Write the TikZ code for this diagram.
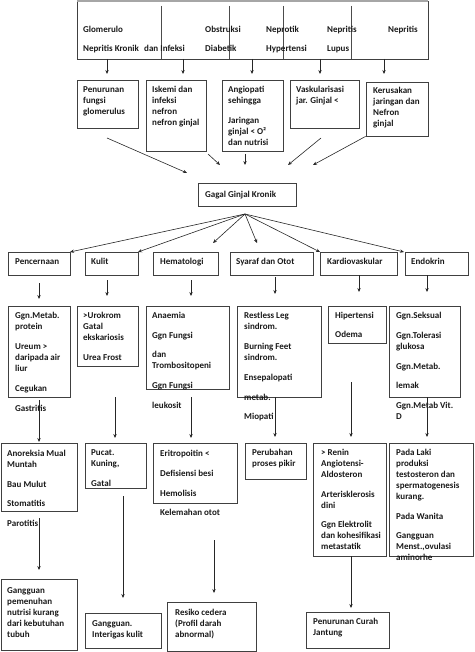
\documentclass[tikz,border=0pt]{standalone}
\usepackage{fontspec}
\setmainfont{Carlito}
\usetikzlibrary{arrows.meta,fit}
\tikzset{
 box/.style={draw=black!75, line width=0.8pt, inner sep=0pt},
 txt/.style={anchor=base west, inner sep=0pt, text=black!90, font=\fontsize{9}{11}\selectfont\bfseries},
 arr/.style={draw=black!85, line width=0.6pt, -{Stealth[length=4pt,width=3.4pt]}},
 divider/.style={draw=black!70, line width=0.7pt},
 topbar/.style={draw=black!35, line width=2.5pt},
}
\newcommand\tx[4]{\node[txt] (#1) at (#2,#3) {\begin{tabular}[t]{@{}l@{}}#4\end{tabular}};}
\begin{document}
\begin{tikzpicture}[x=1pt,y=-1pt]
\useasboundingbox (0,0) rectangle (474,652);

% ---------- top box ----------
\node[box, fit={(77,1)(428,59)}] (top) {};
\draw[topbar] (77,1) -- (428,1);
\foreach \x in {161,229,283,351} \draw[divider] (\x,6) -- (\x,59);
\tx{t1}{83}{33}{Glomerulo}
\tx{t2}{83}{52}{Nepritis Kronik}
\tx{t3}{144}{52}{dan Infeksi}
\tx{t4}{205}{33}{Obstruksi}
\tx{t5}{205}{52}{Diabetik}
\tx{t6}{266}{33}{Neprotik}
\tx{t7}{266}{52}{Hypertensi}
\tx{t8}{327}{33}{Nepritis}
\tx{t9}{327}{52}{Lupus}
\tx{t10}{388}{33}{Nepritis}

\foreach \x [count=\i] in {107,183,252,320,384} {
  \coordinate (ts\i) at (\x,59);
  \coordinate (te\i) at (\x,74);
  \draw[arr] (ts\i) -- (te\i);
}

% ---------- row 1 ----------
\node[box, fit={(77,80)(138,128)}] (r1a) {};
\node[box, fit={(146,80)(206,151)}] (r1b) {};
\node[box, fit={(222,80)(283,151)}] (r1c) {};
\node[box, fit={(290,80)(359,128)}] (r1d) {};
\node[box, fit={(366,82)(428,136)}] (r1e) {};
\tx{x1a}{83}{93}{Penurunan\\fungsi\\glomerulus}
\tx{x1b}{152}{93}{Iskemi dan\\infeksi\\nefron\\nefron ginjal}
\tx{x1c}{228}{93}{Angiopati\\sehingga\\[9pt]Jaringan\\ginjal < O²\\dan nutrisi}
\tx{x1d}{296}{93}{Vaskularisasi\\jar. Ginjal <}
\tx{x1e}{373}{94}{Kerusakan\\jaringan dan\\Nefron\\ginjal}

\coordinate (c1s) at (107,138); \coordinate (c1e) at (187,173);
\coordinate (c2s) at (208,154); \coordinate (c2e) at (220,165);
\coordinate (c3s) at (245,154); \coordinate (c3e) at (245,165);
\coordinate (c4s) at (321,138); \coordinate (c4e) at (288,165);
\coordinate (c5e) at (313,165);
\draw[arr] (c1s) -- (c1e);
\draw[arr] (c2s) -- (c2e);
\draw[arr] (c3s) -- (c3e);
\draw[arr] (c4s) -- (c4e);
\draw[arr] (r1e.south west) -- (c5e);

% ---------- center ----------
\node[box, fit={(198,183)(296,206)}] (ggk) {};
\tx{xggk}{205}{197}{Gagal Ginjal Kronik}

\coordinate (apex) at (245,214);
\coordinate (f1) at (70,252);
\coordinate (f2) at (138,252);
\coordinate (f3) at (213,243);
\coordinate (f4) at (257,243);
\coordinate (f5) at (320,252);
\coordinate (f6) at (404,252);
\foreach \i in {1,...,6} \draw[arr] (apex) -- (f\i);

% ---------- row 2 ----------
\node[box, fit={(8,252)(70,275)}] (r2a) {};
\node[box, fit={(85,252)(138,275)}] (r2b) {};
\node[box, fit={(153,252)(218,275)}] (r2c) {};
\node[box, fit={(230,252)(313,275)}] (r2d) {};
\node[box, fit={(320,252)(397,275)}] (r2e) {};
\node[box, fit={(405,252)(468,275)}] (r2f) {};
\tx{x2a}{15}{264}{Pencernaan}
\tx{x2b}{91}{264}{Kulit}
\tx{x2c}{160}{264}{Hematologi}
\tx{x2d}{236}{264}{Syaraf dan Otot}
\tx{x2e}{327}{264}{Kardiovaskular}
\tx{x2f}{411}{264}{Endokrin}

\coordinate (d1s) at (39,283);  \coordinate (d1e) at (39,299);
\coordinate (d2s) at (107,280); \coordinate (d2e) at (107,296);
\coordinate (d3s) at (191,280); \coordinate (d3e) at (191,296);
\coordinate (d4s) at (275,277); \coordinate (d4e) at (275,294);
\coordinate (d5s) at (359,275); \coordinate (d5e) at (359,292);
\coordinate (d6s) at (427,275); \coordinate (d6e) at (427,292);
\foreach \i in {1,...,6} \draw[arr] (d\i s) -- (d\i e);

% ---------- row 3 ----------
\node[box, fit={(8,306)(70,397)}] (r3a) {};
\node[box, fit={(77,306)(138,366)}] (r3b) {};
\node[box, fit={(146,306)(229,389)}] (r3c) {};
\node[box, fit={(237,306)(321,397)}] (r3d) {};
\node[box, fit={(328,306)(386,343)}] (r3e) {};
\node[box, fit={(389,306)(460,397)}] (r3f) {};
\tx{x3a}{15}{318}{Ggn.Metab.\\protein\\[9pt]Ureum >\\daripada air\\liur\\[9pt]Cegukan\\[9pt]Gastritis}
\tx{x3b}{83}{318}{>Urokrom\\Gatal\\ekskariosis\\[9pt]Urea Frost}
\tx{x3c}{152}{318}{Anaemia\\[9pt]Ggn Fungsi\\[8pt]dan\\Trombositopeni\\[9pt]Ggn Fungsi\\[9pt]leukosit}
\tx{x3d}{244}{318}{Restless Leg\\sindrom.\\[9pt]Burning Feet\\sindrom.\\[9pt]Ensepalopati\\[9pt]metab.\\[8pt]Miopati}
\tx{x3e}{335}{318}{Hipertensi\\[8pt]Odema}
\tx{x3f}{396}{318}{Ggn.Seksual\\[9pt]Ggn.Tolerasi\\glukosa\\[9pt]Ggn.Metab.\\[8pt]lemak\\[9pt]Ggn.Metab Vit.\\D}

\coordinate (e1s) at (39,400);  \coordinate (e1e) at (39,442);
\coordinate (e2s) at (115,397); \coordinate (e2e) at (115,438);
\coordinate (e3s) at (191,397); \coordinate (e3e) at (191,438);
\coordinate (e4s) at (275,397); \coordinate (e4e) at (275,437);
\coordinate (e5s) at (351,382); \coordinate (e5e) at (351,437);
\coordinate (e6s) at (427,397); \coordinate (e6e) at (427,437);
\foreach \i in {1,...,6} \draw[arr] (e\i s) -- (e\i e);

% ---------- row 4 ----------
\node[box, fit={(1,443)(77,511)}] (r4a) {};
\node[box, fit={(85,443)(146,488)}] (r4b) {};
\node[box, fit={(153,443)(237,503)}] (r4c) {};
\node[box, fit={(245,443)(306,479)}] (r4d) {};
\node[box, fit={(313,443)(386,556)}] (r4e) {};
\node[box, fit={(389,443)(473,556)}] (r4f) {};
\tx{x4a}{7}{456}{Anoreksia Mual\\Muntah\\[9pt]Bau Mulut\\[8pt]Stomatitis\\[9pt]Parotitis}
\tx{x4b}{91}{455}{Pucat.\\Kuning,\\[9pt]Gatal}
\tx{x4c}{160}{456}{Eritropoitin <\\[9pt]Defisiensi besi\\[9pt]Hemolisis\\[8pt]Kelemahan otot}
\tx{x4d}{252}{455}{Perubahan\\proses pikir}
\tx{x4e}{321}{455}{> Renin\\Angiotensi-\\Aldosteron\\[9pt]Arterisklerosis\\dini\\[8pt]Ggn Elektrolit\\dan kohesifikasi\\metastatik}
\tx{x4f}{396}{455}{Pada Laki\\produksi\\testosteron dan\\spermatogenesis\\kurang.\\[9pt]Pada Wanita\\[8pt]Gangguan\\Menst.,ovulasi\\aminorhe}

\coordinate (g1s) at (39,518);  \coordinate (g1e) at (39,570);
\coordinate (g2s) at (123,496); \coordinate (g2e) at (123,598);
\coordinate (g3s) at (214,540); \coordinate (g3e) at (214,593);
\coordinate (g4s) at (351,556); \coordinate (g4e) at (351,608);
\foreach \i in {1,...,4} \draw[arr] (g\i s) -- (g\i e);

% ---------- row 5 ----------
\node[box, fit={(1,579)(77,650)}] (r5a) {};
\node[box, fit={(85,613)(161,648)}] (r5b) {};
\node[box, fit={(167,602)(256,651)}] (r5c) {};
\node[box, fit={(306,612)(389,648)}] (r5d) {};
\tx{x5a}{7}{593}{Gangguan\\pemenuhan\\nutrisi kurang\\dari kebutuhan\\tubuh}
\tx{x5b}{92}{626}{Gangguan.\\Interigas kulit}
\tx{x5c}{175}{615}{Resiko cedera\\(Profil darah\\abnormal)}
\tx{x5d}{313}{624}{Penurunan Curah\\Jantung}
\end{tikzpicture}
\end{document}
